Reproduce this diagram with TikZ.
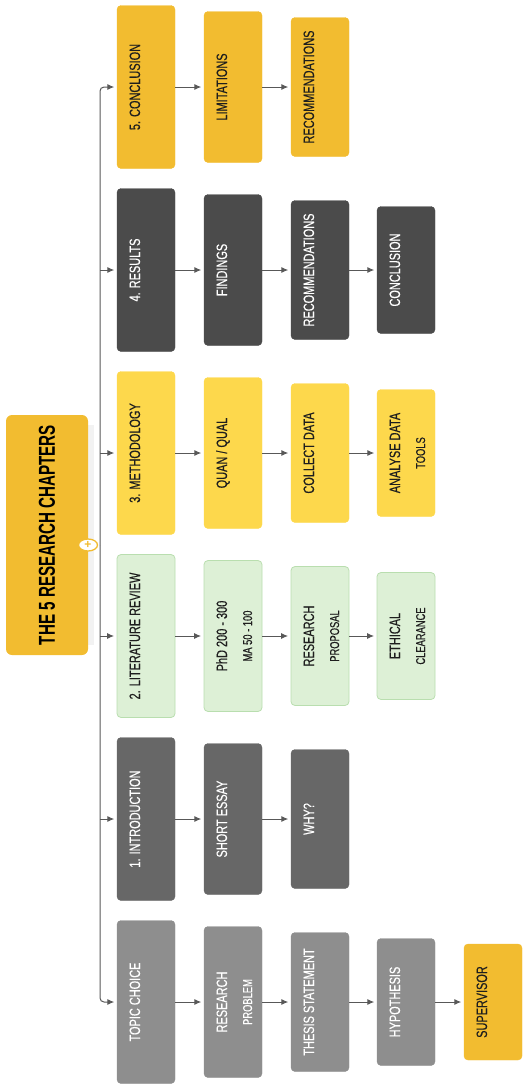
\documentclass[tikz,border=0pt]{standalone}
\usepackage{fontspec}
\setmainfont{Liberation Sans}
\newfontfamily\narrowfont[FakeStretch=0.73,FakeBold=0.4]{Liberation Sans}
\newfontfamily\titlefont[FakeStretch=0.66]{Liberation Sans Bold}
\usetikzlibrary{arrows.meta,shapes.geometric}

\definecolor{gold}{HTML}{F2BC30}
\definecolor{lemon}{HTML}{FDD84C}
\definecolor{darkbox}{HTML}{4B4B4B}
\definecolor{midbox}{HTML}{676767}
\definecolor{lightbox}{HTML}{8E8E8E}
\definecolor{mint}{HTML}{DDF0D6}
\definecolor{mintline}{HTML}{B9DEAF}
\definecolor{linkgray}{HTML}{585858}
\definecolor{inkdark}{HTML}{1E1E1E}

% second, smaller line of a box
\newcommand\subline[1]{{\fontsize{12.8}{25}\selectfont #1}}

\begin{document}
\begin{tikzpicture}[x=1pt, y=-1pt,
    chap/.style={rectangle, rounded corners=4pt, rotate=90, inner sep=0pt,
        minimum height=58pt, text height=23pt, text depth=35pt, align=center,
        font=\narrowfont\fontsize{15}{25}\selectfont},
    twoline/.style={text height=48pt, text depth=10pt},
    wA/.style={minimum width=163pt},
    wB/.style={minimum width=151pt},
    wC/.style={minimum width=139pt},
    wD/.style={minimum width=127pt},
    wE/.style={minimum width=116pt},
    goldbox/.style={chap, fill=gold, draw=gold, text=inkdark},
    lemonbox/.style={chap, fill=lemon, draw=lemon, text=inkdark},
    darkbox/.style={chap, fill=darkbox, draw=darkbox, text=white},
    midbox/.style={chap, fill=midbox, draw=midbox, text=white},
    lightbox/.style={chap, fill=lightbox, draw=lightbox, text=white},
    mintbox/.style={chap, fill=mint, draw=mintline, line width=0.8pt, text=inkdark},
    link/.style={draw=linkgray, line width=1pt, shorten >=2.5pt,
        -{Latex[length=7pt,width=6pt]}},
]
    % page size of the reference
    \useasboundingbox (0,0) rectangle (525,1088);

    % columns (x of the box centres) and rows (y)
    \def\cA{146} \def\cB{233} \def\cC{320} \def\cD{406} \def\cE{493}
    \def\rFive{87} \def\rFour{270} \def\rThree{453}
    \def\rTwo{636} \def\rOne{819} \def\rZero{1002}

    % title
    \fill[black!5] (88,425) rectangle (94,645);
    \node (title) [rotate=90, rectangle, rounded corners=6pt, fill=gold,
        minimum width=240pt, minimum height=82pt, inner sep=0pt,
        font=\titlefont\fontsize{23}{23}\selectfont, text=black]
        at (47,535) {THE 5 RESEARCH CHAPTERS};

    % 5. conclusion
    \node (conclusion) [goldbox, wA] at (\cA,\rFive) {5. CONCLUSION};
    \node (limits)     [goldbox, wB] at (\cB,\rFive) {LIMITATIONS};
    \node (recommend)  [goldbox, wC] at (\cC,\rFive) {RECOMMENDATIONS};

    % 4. results
    \node (results)  [darkbox, wA] at (\cA,\rFour) {4. RESULTS};
    \node (findings) [darkbox, wB] at (\cB,\rFour) {FINDINGS};
    \node (recomm)   [darkbox, wC] at (\cC,\rFour) {RECOMMENDATIONS};
    \node (conclu)   [darkbox, wD] at (\cD,\rFour) {CONCLUSION};

    % 3. methodology
    \node (method)   [lemonbox, wA] at (\cA,\rThree) {3. METHODOLOGY};
    \node (quanqual) [lemonbox, wB] at (\cB,\rThree) {QUAN / QUAL};
    \node (collect)  [lemonbox, wC] at (\cC,\rThree) {COLLECT DATA};
    \node (analyse)  [lemonbox, wD, twoline] at (\cD,\rThree) {ANALYSE DATA\\\subline{TOOLS}};

    % 2. literature review
    \node (litrev)   [mintbox, wA] at (\cA,\rTwo) {2. LITERATURE REVIEW};
    \node (phd)      [mintbox, wB, twoline] at (\cB,\rTwo) {PhD 200 - 300\\\subline{MA 50 - 100}};
    \node (proposal) [mintbox, wC, twoline] at (\cC,\rTwo) {RESEARCH\\\subline{PROPOSAL}};
    \node (ethical)  [mintbox, wD, twoline] at (\cD,\rTwo) {ETHICAL\\\subline{CLEARANCE}};

    % 1. introduction
    \node (intro) [midbox, wA] at (\cA,\rOne) {1. INTRODUCTION};
    \node (essay) [midbox, wB] at (\cB,\rOne) {SHORT ESSAY};
    \node (why)   [midbox, wC] at (\cC,\rOne) {WHY?};

    % topic choice
    \node (topic)    [lightbox, wA] at (\cA,\rZero) {TOPIC CHOICE};
    \node (research) [lightbox, wB, twoline] at (\cB,\rZero) {RESEARCH\\\subline{PROBLEM}};
    \node (thesis)   [lightbox, wC] at (\cC,\rZero) {THESIS STATEMENT};
    \node (hypo)     [lightbox, wD] at (\cD,\rZero) {HYPOTHESIS};
    \node (superv)   [goldbox, wE]  at (\cE,\rZero) {SUPERVISOR};

    % trunk from the title to every chapter
    \coordinate (trunk) at (100,545);
    \draw[link, rounded corners=4pt] (trunk) |- (conclusion);
    \draw[link, rounded corners=4pt] (trunk) |- (topic);
    \foreach \n in {results, method, litrev, intro}
        \draw[link] (trunk |- \n) -- (\n);

    % steps inside each chapter
    \draw[link] (conclusion) -- (limits);
    \draw[link] (limits) -- (recommend);
    \draw[link] (results) -- (findings);
    \draw[link] (findings) -- (recomm);
    \draw[link] (recomm) -- (conclu);
    \draw[link] (method) -- (quanqual);
    \draw[link] (quanqual) -- (collect);
    \draw[link] (collect) -- (analyse);
    \draw[link] (litrev) -- (phd);
    \draw[link] (phd) -- (proposal);
    \draw[link] (proposal) -- (ethical);
    \draw[link] (intro) -- (essay);
    \draw[link] (essay) -- (why);
    \draw[link] (topic) -- (research);
    \draw[link] (research) -- (thesis);
    \draw[link] (thesis) -- (hypo);
    \draw[link] (hypo) -- (superv);

    % expand button on the title
    \node (plus) [ellipse, draw=gold, fill=white, line width=1.3pt,
        minimum width=19pt, minimum height=12pt, inner sep=0pt,
        text=gold, font=\bfseries\fontsize{12}{12}\selectfont]
        at (88,545) {+};
\end{tikzpicture}
\end{document}
